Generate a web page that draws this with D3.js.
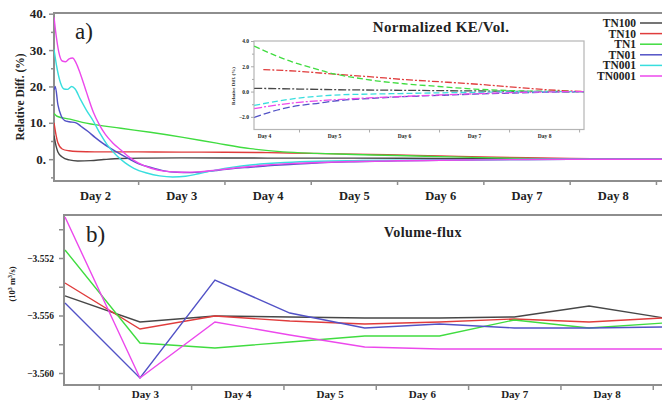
<!DOCTYPE html>
<html>
<head>
<meta charset="utf-8">
<script src="https://cdnjs.cloudflare.com/ajax/libs/d3/7.8.5/d3.min.js"></script>
<style>
    body { margin: 0; background: #fff; }
    svg { display: block; }
    text { font-family: "Liberation Serif", "DejaVu Serif", serif; fill: #222; }
</style>
</head>
<body>
<div id="chart"></div>
<script>
// series names and colours (same order everywhere)
const seriesNames = ["TN100", "TN10", "TN1", "TN01", "TN001", "TN0001"];
const seriesColors = ["#474747", "#e03c3c", "#40dc40", "#5252c6", "#38dede", "#ec48ec"];

// a) Normalized KE/Vol., relative diff (%) -- [day, value]
const keTN100 = [[1.525, 6.5], [1.55, 3.5], [1.57, 2.0], [1.62, 0.6], [1.70, -0.2], [1.80, -0.5], [1.95, -0.4], [2.10, -0.1], [2.30, 0.2], [2.6, 0.3], [3.0, 0.35], [4.0, 0.3], [5.0, 0.28], [6.0, 0.2], [7.0, 0.08], [7.6, 0.02], [8.57, 0]];
const keTN10 = [[1.525, 10], [1.55, 6.5], [1.57, 4.5], [1.62, 2.8], [1.70, 2.3], [1.80, 2.1], [2.0, 2.0], [2.5, 2.0], [3.0, 1.95], [3.5, 1.9], [4.0, 1.8], [4.5, 1.6], [5.0, 1.4], [5.5, 1.15], [6.0, 0.9], [6.5, 0.62], [7.0, 0.38], [7.5, 0.18], [8.0, 0.05], [8.57, 0]];
const keTN1 = [[1.525, 12.6], [1.56, 11.8], [1.71, 11.0], [1.9, 9.9], [2.3, 8.5], [2.64, 7.4], [3.02, 6.0], [3.41, 4.4], [3.80, 2.9], [4.18, 2.0], [4.57, 1.6], [5.0, 1.3], [5.5, 1.0], [6.0, 0.7], [6.5, 0.42], [7.0, 0.2], [7.5, 0.06], [8.0, 0.01], [8.57, 0]];
const keTN01 = [[1.525, 19], [1.54, 20], [1.57, 15], [1.61, 11.8], [1.65, 10.6], [1.70, 10.3], [1.78, 10.0], [1.84, 9.0], [1.92, 7.6], [2.0, 6.0], [2.1, 4.2], [2.25, 2.0], [2.4, 0.0], [2.5, -1.2], [2.65, -2.3], [2.8, -3.2], [2.95, -3.6], [3.1, -3.7], [3.25, -3.5], [3.4, -3.1], [3.6, -2.6], [3.8, -2.2], [4.0, -1.8], [4.3, -1.4], [4.6, -1.0], [5.0, -0.7], [5.5, -0.45], [6.0, -0.3], [6.5, -0.18], [7.0, -0.09], [7.5, -0.03], [8.0, 0], [8.57, 0]];
const keTN001 = [[1.525, 30.2], [1.56, 25], [1.60, 21], [1.64, 19.3], [1.68, 19.2], [1.73, 20.0], [1.77, 19.3], [1.83, 16.5], [1.90, 13.5], [1.98, 10.5], [2.06, 7.0], [2.14, 4.0], [2.25, 1.0], [2.35, -1.0], [2.45, -2.5], [2.6, -3.8], [2.75, -4.6], [2.9, -4.9], [3.05, -4.7], [3.2, -4.0], [3.4, -3.0], [3.6, -2.2], [3.8, -1.6], [4.0, -1.2], [4.2, -0.9], [4.6, -0.55], [5.0, -0.4], [5.5, -0.3], [6.0, -0.22], [6.5, -0.14], [7.0, -0.07], [7.5, -0.02], [8.0, 0], [8.57, 0]];
const keTN0001 = [[1.525, 39], [1.55, 34], [1.58, 29.5], [1.62, 27], [1.66, 26.8], [1.70, 27.6], [1.74, 27.8], [1.78, 26.5], [1.83, 23.5], [1.90, 18.5], [1.98, 13.0], [2.05, 9.5], [2.12, 6.8], [2.2, 4.6], [2.3, 2.5], [2.4, 0.5], [2.5, -1.0], [2.65, -2.5], [2.8, -3.3], [3.0, -3.6], [3.2, -3.5], [3.4, -3.0], [3.6, -2.5], [3.8, -2.0], [4.0, -1.6], [4.3, -1.2], [4.6, -0.9], [5.0, -0.65], [5.5, -0.45], [6.0, -0.3], [6.5, -0.18], [7.0, -0.08], [7.5, -0.02], [8.0, 0], [8.57, 0]];

// inset: tail of a), same units
const insTN100 = [[3.86, 0.26], [4.5, 0.2], [5.0, 0.15], [6.0, 0.1], [7.0, 0.05], [8.0, 0.01], [8.57, 0]];
const insTN10 = [[3.99, 1.74], [4.5, 1.6], [5.0, 1.38], [5.5, 1.18], [6.0, 0.95], [6.5, 0.78], [7.0, 0.6], [7.5, 0.38], [8.0, 0.16], [8.57, 0]];
const insTN1 = [[3.86, 3.6], [4.1, 3.0], [4.4, 2.35], [4.7, 1.85], [5.0, 1.4], [5.3, 1.1], [5.6, 0.85], [6.0, 0.62], [6.5, 0.4], [7.0, 0.2], [7.5, 0.08], [8.0, 0.02], [8.57, 0]];
const insTN01 = [[3.86, -2.05], [4.1, -1.6], [4.4, -1.2], [4.8, -0.9], [5.0, -0.75], [5.5, -0.55], [6.0, -0.4], [6.5, -0.3], [7.0, -0.2], [7.5, -0.12], [8.0, -0.05], [8.57, 0]];
const insTN001 = [[3.86, -1.1], [4.2, -0.75], [4.6, -0.45], [5.0, -0.28], [5.5, -0.2], [6.0, -0.15], [6.5, -0.1], [7.0, -0.06], [8.0, -0.01], [8.57, 0]];
const insTN0001 = [[3.86, -1.35], [4.2, -1.05], [4.5, -0.85], [5.0, -0.65], [5.5, -0.5], [6.0, -0.38], [6.5, -0.27], [7.0, -0.17], [7.5, -0.09], [8.0, -0.03], [8.57, 0]];

// b) Volume-flux (10^3 m^3/s)
const fluxDays = [2.134, 2.946, 3.758, 4.569, 5.38, 6.19, 7.0, 7.81, 8.62];
const fluxTN100 = [-3.55464, -3.55645, -3.55604, -3.55610, -3.55617, -3.55617, -3.55610, -3.55534, -3.55617];
const fluxTN10 = [-3.55374, -3.55694, -3.55604, -3.55638, -3.55659, -3.55645, -3.55624, -3.55645, -3.55617];
const fluxTN1 = [-3.55144, -3.55791, -3.55826, -3.55784, -3.55743, -3.55743, -3.55631, -3.55687, -3.55652];
const fluxTN01 = [-3.55513, -3.56035, -3.55353, -3.55583, -3.55687, -3.55659, -3.55687, -3.55687, -3.55680];
const fluxTN001 = [];   // not drawn in b)
const fluxTN0001 = [-3.54915, -3.56035, -3.55645, -3.55736, -3.55819, -3.55833, -3.55833, -3.55833, -3.55833];

// tick labels
const yTicksA = [40, 30, 20, 10, 0];
const yMinorA = [35, 25, 15, 5, -5];
const daysA = [2, 3, 4, 5, 6, 7, 8];
const daysB = [3, 4, 5, 6, 7, 8];
const yTicksB = [-3.552, -3.556, -3.560];
const yMinorB = [-3.550, -3.554, -3.558];
const yTicksIns = [4, 2, 0, -2];
const yMinorIns = [3, 1, -1];
const daysIns = [4, 5, 6, 7, 8];

const W = 662, H = 401;
const frameColor = "#8e8e8e";

const svg = d3.select("#chart").append("svg")
    .attr("width", W)
    .attr("height", H);

svg.append("defs").append("clipPath").attr("id", "clipA")
    .append("rect").attr("x", 54).attr("y", 13).attr("width", 620).attr("height", 168);
svg.select("defs").append("clipPath").attr("id", "clipB")
    .append("rect").attr("x", 64).attr("y", 215).attr("width", 610).attr("height", 170);

// ---------- panel a ----------
const xA = d3.scaleLinear().domain([1.525, 8.57]).range([54, 662]);
const yA = d3.scaleLinear().domain([-6, 40]).range([181, 13.7]);

const gA = svg.append("g");

function styleAxis(g) {
    g.select(".domain").remove();
    g.selectAll(".tick line").attr("stroke", frameColor).attr("stroke-width", 1.5);
}

gA.append("g").attr("transform", "translate(54,0)")
    .call(d3.axisLeft(yA).tickValues(yTicksA).tickSize(5).tickPadding(3).tickFormat(d => d + "."))
    .call(styleAxis)
    .selectAll("text")
    .style("font-family", "Liberation Serif").style("font-weight", "bold").style("font-size", "13px").attr("fill", "#222");

gA.append("g").attr("transform", "translate(54,0)")
    .call(d3.axisLeft(yA).tickValues(yMinorA).tickSize(3).tickFormat(""))
    .call(styleAxis);

gA.append("g").attr("transform", "translate(0,181)")
    .call(d3.axisBottom(xA).tickValues(daysA.map(d => d + 0.5)).tickSize(4).tickFormat(""))
    .call(styleAxis);

gA.append("g").attr("transform", "translate(0,181)")
    .call(d3.axisBottom(xA).tickValues(daysA).tickSize(0).tickPadding(10).tickFormat(d => "Day " + d))
    .call(g => g.select(".domain").remove())
    .selectAll("text")
    .style("font-family", "Liberation Serif").style("font-weight", "bold").style("font-size", "12.5px").attr("fill", "#222");

// frame
gA.append("path")
    .attr("d", "M665,13H54V181H665")
    .attr("fill", "none").attr("stroke", frameColor).attr("stroke-width", 2);

gA.append("text")
    .attr("transform", "translate(24,97) rotate(-90)")
    .attr("text-anchor", "middle")
    .style("font-weight", "bold").style("font-size", "11.5px")
    .text("Relative Diff.  (%)");

const lineA = d3.line().x(d => xA(d[0])).y(d => yA(d[1])).curve(d3.curveMonotoneX);
const keSeries = [keTN100, keTN10, keTN1, keTN01, keTN001, keTN0001];

gA.append("g").attr("clip-path", "url(#clipA)")
    .selectAll("path")
    .data(keSeries)
    .enter().append("path")
    .attr("d", lineA)
    .attr("fill", "none")
    .attr("stroke", (d, i) => seriesColors[i])
    .attr("stroke-width", 1.4);

gA.append("text").attr("x", 75).attr("y", 39)
    .style("font-size", "23px").text("a)");

gA.append("text").attr("x", 441).attr("y", 32).attr("text-anchor", "middle")
    .style("font-size", "15px").style("font-weight", "bold").style("letter-spacing", "0.4px").text("Normalized KE/Vol.");

// legend
const legend = gA.append("g");
seriesNames.forEach((name, i) => {
    const ly = 23 + i * 10.6;
    legend.append("text").attr("x", 636).attr("y", ly + 4).attr("text-anchor", "end")
        .style("font-weight", "bold").style("font-size", "11.5px").text(name);
    legend.append("line").attr("x1", 640).attr("x2", 662).attr("y1", ly).attr("y2", ly)
        .attr("stroke", seriesColors[i]).attr("stroke-width", 1.5);
});

// ---------- inset ----------
const xI = d3.scaleLinear().domain([3.857, 8.57]).range([254, 584]);
const yI = d3.scaleLinear().domain([-3, 4]).range([129.5, 41]);
const gI = svg.append("g");

gI.append("rect").attr("x", 254).attr("y", 41).attr("width", 330).attr("height", 88.5)
    .attr("fill", "#fff").attr("stroke", "#b5b5b5").attr("stroke-width", 1.2);

gI.append("g").attr("transform", "translate(254,0)")
    .call(d3.axisLeft(yI).tickValues(yTicksIns).tickSize(3).tickPadding(2).tickFormat(d3.format(".1f")))
    .call(g => { g.select(".domain").remove(); g.selectAll(".tick line").attr("stroke", "#aaa"); })
    .selectAll("text").style("font-size", "5.5px").style("font-weight", "bold").attr("fill", "#333");

gI.append("g").attr("transform", "translate(254,0)")
    .call(d3.axisLeft(yI).tickValues(yMinorIns).tickSize(2).tickFormat(""))
    .call(g => { g.select(".domain").remove(); g.selectAll(".tick line").attr("stroke", "#aaa"); });

gI.append("g").attr("transform", "translate(0,129.5)")
    .call(d3.axisBottom(xI).tickValues(daysIns.map(d => d + 0.5)).tickSize(3).tickFormat(""))
    .call(g => { g.select(".domain").remove(); g.selectAll(".tick line").attr("stroke", "#aaa"); });

gI.append("g").attr("transform", "translate(0,129.5)")
    .call(d3.axisBottom(xI).tickValues(daysIns).tickSize(0).tickPadding(5).tickFormat(d => "Day " + d))
    .call(g => g.select(".domain").remove())
    .selectAll("text").style("font-size", "5.5px").style("font-weight", "bold").attr("fill", "#333");

gI.append("text")
    .attr("transform", "translate(235,86) rotate(-90)")
    .attr("text-anchor", "middle")
    .style("font-weight", "bold").style("font-size", "5px")
    .text("Relative Diff. (%)");

const lineI = d3.line().x(d => xI(d[0])).y(d => yI(d[1])).curve(d3.curveMonotoneX);
const insSeries = [insTN100, insTN10, insTN1, insTN01, insTN001, insTN0001];
const insDash = ["8,2,2,2", "7,2,2,2", "6,3", "7,3", "6,3", "8,2,2,2"];

gI.append("g")
    .selectAll("path")
    .data(insSeries)
    .enter().append("path")
    .attr("d", lineI)
    .attr("fill", "none")
    .attr("stroke", (d, i) => seriesColors[i])
    .attr("stroke-dasharray", (d, i) => insDash[i])
    .attr("stroke-width", 1.3);

// ---------- panel b ----------
const xB = d3.scaleLinear().domain([2.134, 8.6]).range([65, 662]);
const yB = d3.scaleLinear().domain([-3.560, -3.552]).range([373, 258]);
const gB = svg.append("g");

gB.append("g").attr("transform", "translate(64,0)")
    .call(d3.axisLeft(yB).tickValues(yTicksB).tickSize(5).tickPadding(5).tickFormat(d3.format(".3f")))
    .call(styleAxis)
    .selectAll("text")
    .style("font-weight", "bold").style("font-size", "9.5px").attr("fill", "#333");

gB.append("g").attr("transform", "translate(64,0)")
    .call(d3.axisLeft(yB).tickValues(yMinorB).tickSize(5).tickFormat(""))
    .call(styleAxis);

gB.append("g").attr("transform", "translate(0,385)")
    .call(d3.axisBottom(xB).tickValues(daysB.map(d => d - 0.5).concat([8.5])).tickSize(5).tickFormat(""))
    .call(styleAxis);

// day labels sit right at the bottom edge, as in the original
gB.append("g").attr("transform", "translate(0,385)")
    .call(d3.axisBottom(xB).tickValues(daysB).tickSize(0).tickPadding(5).tickFormat(d => "Day " + d))
    .call(g => g.select(".domain").remove())
    .selectAll("text")
    .style("font-weight", "bold").style("font-size", "11px").attr("fill", "#222");

gB.append("path")
    .attr("d", "M665,215H64V385H665")
    .attr("fill", "none").attr("stroke", frameColor).attr("stroke-width", 2);

gB.append("text")
    .attr("transform", "translate(15,284) rotate(-90)")
    .attr("text-anchor", "middle")
    .style("font-weight", "bold").style("font-size", "8.5px")
    .html("(10<tspan dy='-3' font-size='6px'>3</tspan><tspan dy='3'> m</tspan><tspan dy='-3' font-size='6px'>3</tspan><tspan dy='3'>/s)</tspan>");

const lineB = d3.line().x(d => xB(d[0])).y(d => yB(d[1]));
const fluxSeries = [fluxTN100, fluxTN10, fluxTN1, fluxTN01, fluxTN001, fluxTN0001];

gB.append("g").attr("clip-path", "url(#clipB)")
    .selectAll("path")
    .data(fluxSeries.map(s => s.map((v, k) => [fluxDays[k], v])))
    .enter().append("path")
    .attr("d", d => d.length ? lineB(d) : null)
    .attr("fill", "none")
    .attr("stroke", (d, i) => seriesColors[i])
    .attr("stroke-width", 1.4);

gB.append("text").attr("x", 86).attr("y", 242)
    .style("font-size", "23px").text("b)");

gB.append("text").attr("x", 423).attr("y", 237).attr("text-anchor", "middle")
    .style("font-size", "14px").style("font-weight", "bold").style("letter-spacing", "0.4px").text("Volume-flux");
</script>
</body>
</html>
